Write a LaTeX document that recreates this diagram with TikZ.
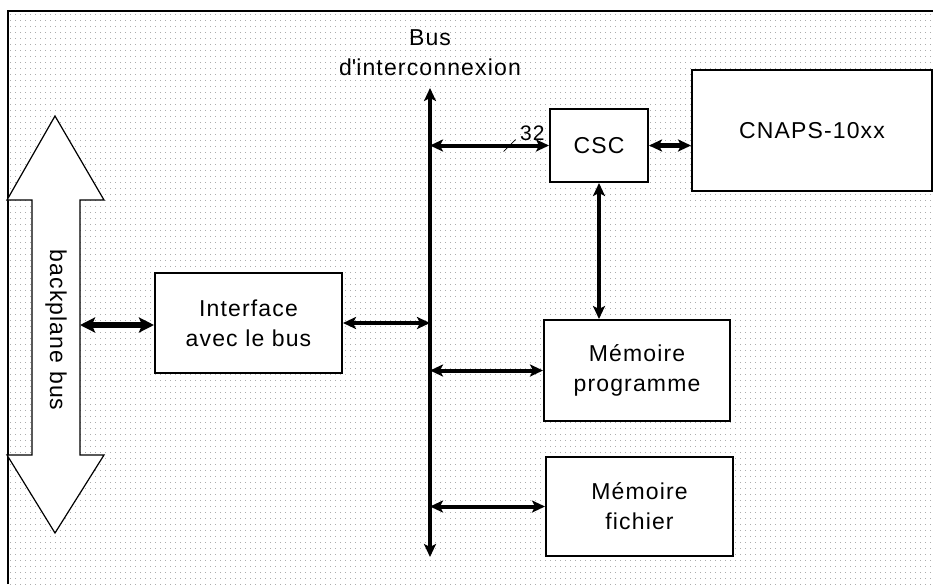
\documentclass[tikz,border=0pt]{standalone}
\usepackage{fontspec}
\setmainfont{Liberation Sans}[LetterSpace=5]
\usetikzlibrary{arrows.meta,patterns}

\pgfdeclarepatternformonly{griddots}{\pgfpointorigin}{\pgfpoint{5pt}{6pt}}{\pgfpoint{5pt}{6pt}}{%
  \pgfpathrectangle{\pgfpointorigin}{\pgfpoint{1pt}{1pt}}\pgfusepath{fill}}

\begin{document}
\begin{tikzpicture}[
  x=1pt, y=-1pt, >={Stealth[length=13pt,width=12pt,inset=3pt]},
  every node/.style={font=\fontsize{23}{30}\selectfont},
  unit/.style={draw, line width=2pt, fill=white, align=center, inner sep=0pt},
  link/.style={<->, line width=4pt}
]
  \useasboundingbox (0,0) rectangle (933,584);
  % fond pointille et cadre
  \fill[pattern=griddots, pattern color=gray!65] (8,11) rectangle (933,584);
  \draw[line width=1.8pt] (8,584) -- (8,11) -- (933,11);

  % backplane bus
  \draw[line width=1.2pt, fill=white] (55,116) -- (104,200) -- (80,200) -- (80,455) -- (104,455)
    -- (55,533) -- (7,455) -- (32,455) -- (32,200) -- (7,200) -- cycle;
  \node[rotate=-90] (bp) at (56,330) {backplane bus};
  \coordinate (bpR) at (80,325);

  % blocs
  \node[unit, minimum width=187pt, minimum height=100pt] (iface) at (248.5,323) {Interface\\avec le bus};
  \node[unit, minimum width=98pt, minimum height=73pt] (csc) at (599,145.5) {CSC};
  \node[unit, minimum width=240pt, minimum height=121pt] (cnaps) at (812,130.5) {CNAPS-10xx};
  \node[unit, minimum width=186pt, minimum height=101pt] (mprog) at (637,370.5) {Mémoire\\programme};
  \node[unit, minimum width=187pt, minimum height=99pt] (mfich) at (639.5,506.5) {Mémoire\\fichier};

  % bus d'interconnexion
  \coordinate (bustop) at (430,88);
  \coordinate (busbot) at (430,557);
  \draw[link] (bustop) -- (busbot);
  \node[anchor=south, align=center, inner sep=0pt] (buslbl) at (430,76) {Bus\\d\textquotesingle interconnexion};

  % liaisons
  \draw[link] (csc.west -| bustop) -- node[pos=.86, above=3pt, inner sep=0pt, font=\fontsize{21}{24}\selectfont] (n32) {32}
    coordinate[pos=.67] (tick) (csc.west);
  \draw[line width=.7pt] ([shift={(-6,6)}]tick) -- ([shift={(6,-6)}]tick);
  \draw[link, line width=5pt] (csc.east) -- (csc.east -| cnaps.west);
  \draw[link, line width=4.2pt] (csc.south) -- (csc.south |- mprog.north);
  \draw[link] (iface.east) -- (iface.east -| bustop);
  \draw[link, line width=5.5pt, >={Stealth[length=15pt,width=15pt,inset=3pt]}] (bpR) -- (bpR -| iface.west);
  \draw[link] (mprog.west -| bustop) -- (mprog.west);
  \draw[link] (mfich.west -| bustop) -- (mfich.west);
\end{tikzpicture}
\end{document}
